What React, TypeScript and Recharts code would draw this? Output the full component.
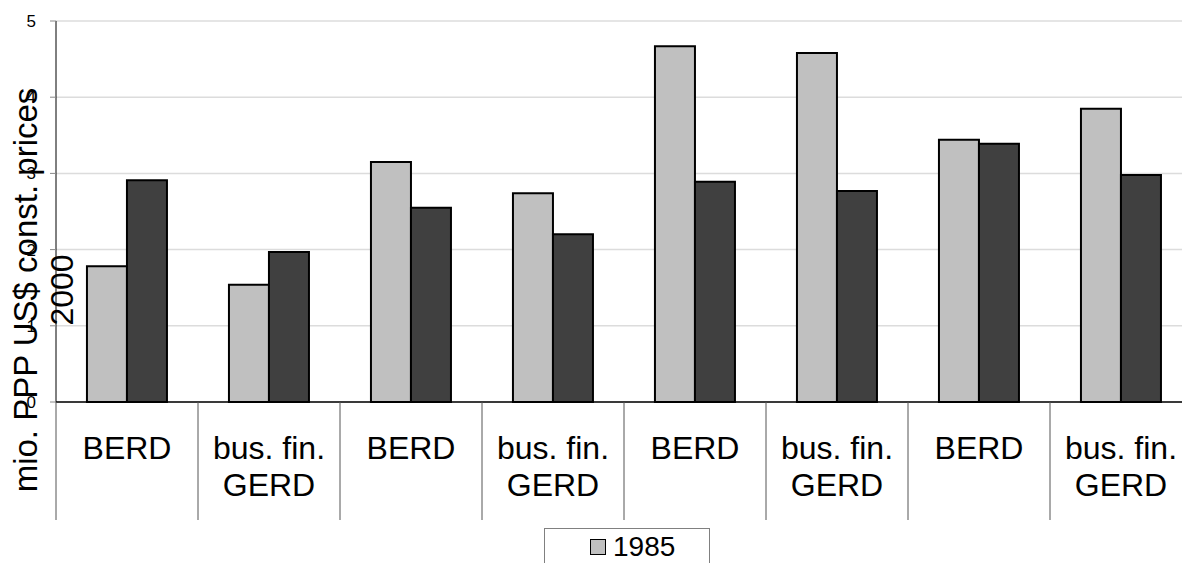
import React from 'react';
import { Bar, BarChart, CartesianGrid, Label, XAxis, YAxis } from 'recharts';

const categories = [
  'BERD',
  'bus. fin.\nGERD',
  'BERD',
  'bus. fin.\nGERD',
  'BERD',
  'bus. fin.\nGERD',
  'BERD',
  'bus. fin.\nGERD',
];
const values1985 = [1.78, 1.54, 3.15, 2.74, 4.67, 4.58, 3.44, 3.85];
const valuesLater = [2.91, 1.97, 2.55, 2.2, 2.89, 2.77, 3.39, 2.98];
const yTicks = [0, 1, 2, 3, 4, 5];
const yTitle = ['mio. PPP US$ const. prices', '2000'];

const data = categories.map((cat, i) => ({
  key: `c${i}`,
  cat,
  y1985: values1985[i],
  later: valuesLater[i],
}));

const FONT = '"Liberation Sans", Arial, sans-serif';

function CategoryTick(props: any) {
  const { x, y, payload } = props;
  const half = payload && payload.offset ? payload.offset : 71;
  const lines = categories[payload.index].split('\n');
  return (
    <g>
      <line x1={x - half} y1={y} x2={x - half} y2={y + 118} stroke="#555" strokeWidth={1} />
      {lines.map((ln: string, i: number) => (
        <text key={i} x={x} y={y + 57 + i * 37} textAnchor="middle" fontSize={32} fill="#000" fontFamily={FONT}>
          {ln}
        </text>
      ))}
    </g>
  );
}

function ValueTick(props: any) {
  const { y, payload } = props;
  return (
    <text x={36} y={y + 6} textAnchor="end" fontSize={17} fill="#000" fontFamily={FONT}>
      {payload.value}
    </text>
  );
}

function TitleLabel() {
  return (
    <g>
      <text transform="translate(37,290) rotate(-90)" textAnchor="middle" fontSize={33} fill="#000" fontFamily={FONT}>
        {yTitle[0]}
      </text>
      <text transform="translate(73,290) rotate(-90)" textAnchor="middle" fontSize={32} fill="#000" fontFamily={FONT}>
        {yTitle[1]}
      </text>
    </g>
  );
}

export default function App() {
  return (
    <div style={{ position: 'absolute', left: 0, top: 0, width: 1182, height: 563, overflow: 'hidden', background: '#fff' }}>
      <BarChart
        width={1200}
        height={563}
        data={data}
        margin={{ top: 21, right: 8, bottom: 0, left: 0 }}
        barCategoryGap="21.8%"
        barGap={0}
        style={{ fontFamily: FONT }}
      >
        <CartesianGrid horizontal vertical={false} stroke="#dcdcdc" strokeWidth={1.5} />
        <XAxis
          dataKey="key"
          height={161}
          tickSize={0}
          tickMargin={0}
          tickLine={false}
          axisLine={{ stroke: '#000', strokeWidth: 1.5 }}
          tick={<CategoryTick />}
          interval={0}
        />
        <YAxis
          width={56}
          domain={[0, 5]}
          ticks={yTicks}
          interval={0}
          tickSize={6}
          axisLine={{ stroke: '#000', strokeWidth: 1 }}
          tickLine={{ stroke: '#888' }}
          tick={<ValueTick />}
        >
          <Label content={<TitleLabel />} />
        </YAxis>
        <Bar dataKey="y1985" name="1985" fill="#c0c0c0" stroke="#000" strokeWidth={2} isAnimationActive={false} />
        <Bar dataKey="later" name="later" fill="#404040" stroke="#000" strokeWidth={2} isAnimationActive={false} />
      </BarChart>
      <div
        style={{
          position: 'absolute',
          left: 544,
          top: 528,
          width: 166,
          height: 40,
          border: '1px solid #808080',
          boxSizing: 'border-box',
          background: '#fff',
          fontFamily: FONT,
        }}
      >
        <div
          style={{
            position: 'absolute',
            left: 45,
            top: 10,
            width: 14,
            height: 14,
            background: '#c0c0c0',
            border: '1.5px solid #000',
          }}
        />
        <div style={{ position: 'absolute', left: 68, top: 3, fontSize: 28, lineHeight: '30px', color: '#000' }}>1985</div>
      </div>
    </div>
  );
}
